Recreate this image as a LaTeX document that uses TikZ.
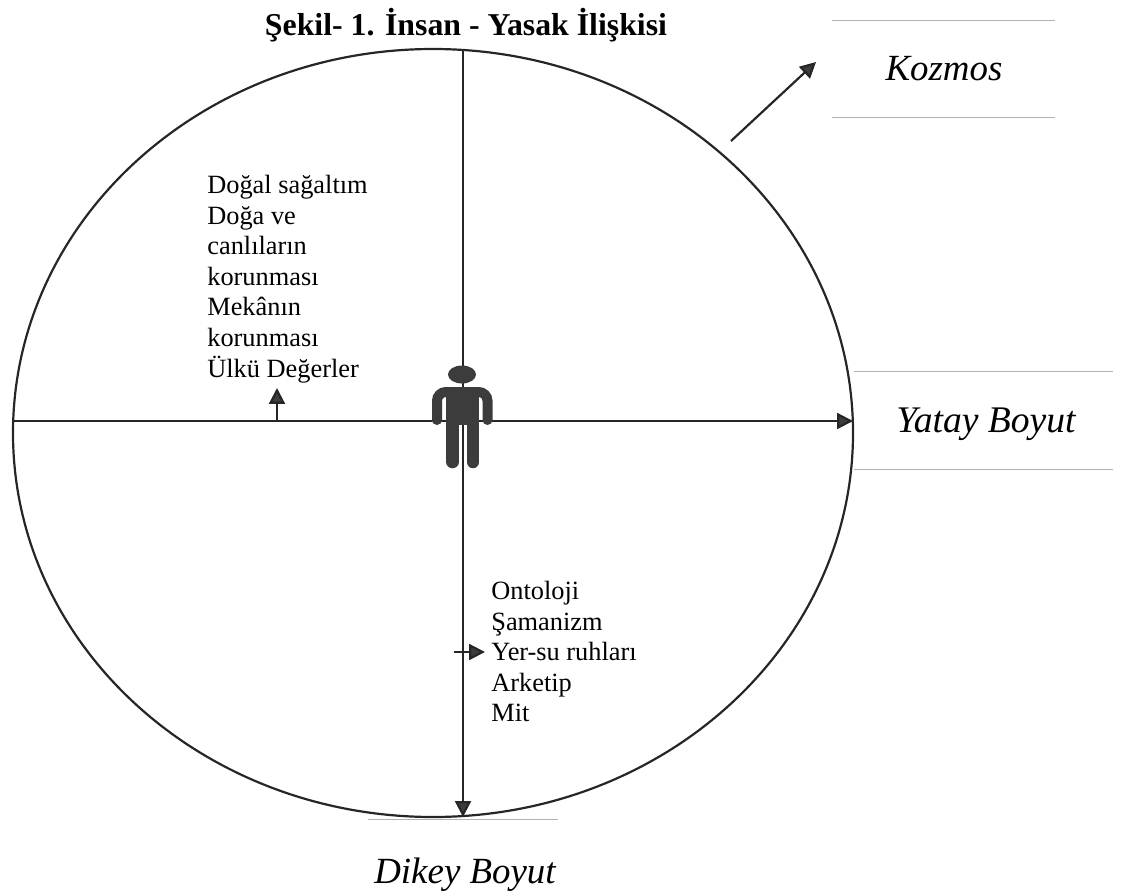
\documentclass[tikz,border=0pt]{standalone}
\usepackage{fontspec}
\setmainfont{Liberation Serif}
\usetikzlibrary{shapes}
\usetikzlibrary{arrows.meta}
\definecolor{mandark}{HTML}{3C3C3C}

\begin{document}
\begin{tikzpicture}[x=0.02cm,y=-0.02cm]
	\tikzstyle{axis}=[line width=1.25pt,draw=black!85,-{Triangle[length=9pt,width=9pt,fill=mandark]}]
	\tikzstyle{faint}=[line width=0.4pt,draw=black!30]
	\tikzstyle{listing}=[align=left,anchor=north west,inner sep=0pt,font=\fontsize{15}{17.4}\selectfont]
	\tikzstyle{dimlabel}=[inner sep=0pt,font=\fontsize{21}{25}\selectfont\itshape]
	\useasboundingbox (0,0) rectangle (1128,892);

	\node[inner sep=0pt,font=\fontsize{18.1}{21}\selectfont\bfseries] (title) at (466,25) {Şekil- 1. İnsan - Yasak İlişkisi};
	\node[dimlabel] (kozmos) at (944,69) {Kozmos};
	\node[dimlabel,font=\fontsize{21.4}{25}\selectfont\itshape] (yatay) at (986,424) {Yatay Boyut};
	\node[dimlabel] (dikey) at (465,875) {Dikey Boyut};

	\node[listing] (up) at (207,175) {Doğal sağaltım\\Doğa ve\\canlıların\\korunması\\Mekânın\\korunması\\Ülkü Değerler};
	\node[listing] (down) at (491,581) {Ontoloji\\Şamanizm\\Yer-su ruhları\\Arketip\\Mit};

	\draw[line width=1.25pt,black!85] (433,433) ellipse (420 and 384);

	\coordinate (west) at (13,421);
	\coordinate (east) at (853,421);
	\coordinate (north) at (463,50);
	\coordinate (south) at (463,817);
	\coordinate (upstart) at (277,421);
	\coordinate (upend) at (277,388);
	\coordinate (rightstart) at (454,652);
	\coordinate (rightend) at (485,652);
	\coordinate (kozstart) at (731,141);
	\coordinate (kozend) at (816,62);

	\draw[axis] (west) -- (east);
	\draw[axis] (north) -- (south);
	\draw[axis] (upstart) -- (upend);
	\draw[axis] (rightstart) -- (rightend);
	\draw[axis] (kozstart) -- (kozend);

	% figure
	\fill[mandark] (462,374.5) ellipse (14 and 9);
	\fill[mandark] (446,387) rectangle (479,425);
	\draw[mandark,line width=0.2cm,line cap=round,rounded corners=5pt] (437,420) -- (437,392) -- (487.5,392) -- (487.5,420);
	\draw[mandark,line width=0.25cm,line cap=round] (452.5,425) -- (452.5,462);
	\draw[mandark,line width=0.25cm,line cap=round] (473,425) -- (473,462);

	\draw[faint] (832,20) -- (1055,20);
	\draw[faint] (832,117) -- (1055,117);
	\draw[faint] (854,371) -- (1113,371);
	\draw[faint] (854,469) -- (1113,469);
	\draw[faint] (368,819) -- (558,819);
\end{tikzpicture}
\end{document}
